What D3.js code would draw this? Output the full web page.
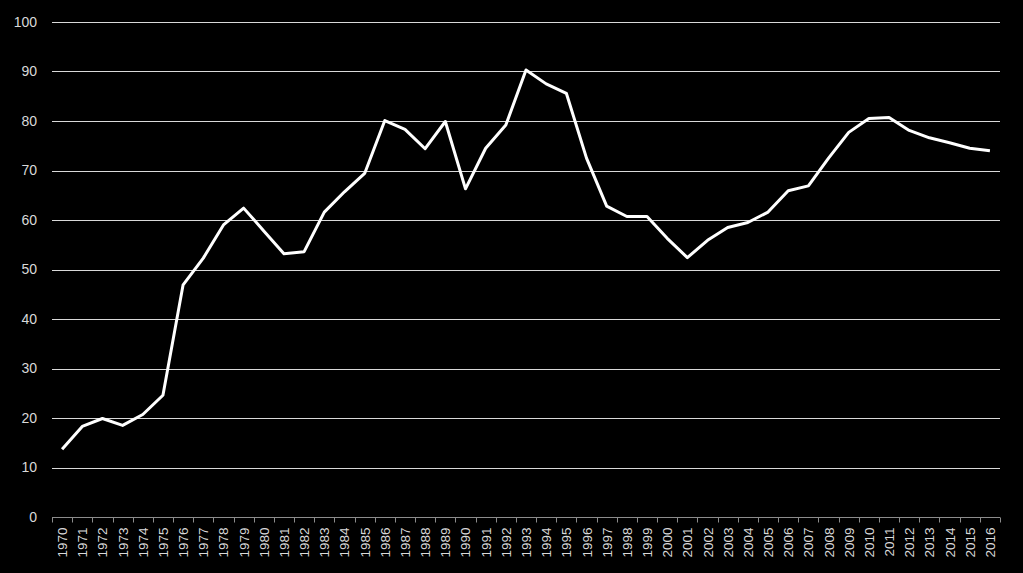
<!DOCTYPE html>
<html>
<head>
<meta charset="utf-8">
<script src="https://cdn.jsdelivr.net/npm/d3@7"></script>
<style>
  html, body { margin: 0; padding: 0; background: #000; }
  svg { display: block; }
</style>
</head>
<body>
<svg id="chart"></svg>
<script>
const years = d3.range(1970, 2017).map(String)
const values = [
  13.7, 18.3, 19.9, 18.5, 20.7, 24.6, 46.9, 52.3, 59.0, 62.4,
  57.8, 53.2, 53.6, 61.6, 65.7, 69.4, 80.1, 78.3, 74.4, 79.9,
  66.3, 74.5, 79.2, 90.3, 87.5, 85.6, 72.5, 62.8, 60.7, 60.7,
  56.3, 52.4, 55.9, 58.5, 59.5, 61.6, 65.9, 66.9, 72.5, 77.7,
  80.5, 80.7, 78.1, 76.6, 75.6, 74.5, 74.0
]
const yTicks = d3.range(0, 101, 10)

const width = 1023
const height = 573
const margin = { top: 22, right: 23, bottom: 56, left: 52 }

const svg = d3.select('#chart')
              .attr('width', width)
              .attr('height', height)

const x = d3.scaleBand()
            .domain(years)
            .range([margin.left, width - margin.right])

const y = d3.scaleLinear()
            .domain([0, 100])
            .range([height - margin.bottom, margin.top])

// gridlines
svg.append('g')
   .selectAll('line')
   .data(yTicks.filter(d => d > 0))
   .join('line')
   .attr('x1', margin.left)
   .attr('x2', width - margin.right)
   .attr('y1', d => Math.round(y(d)) + 0.5)
   .attr('y2', d => Math.round(y(d)) + 0.5)
   .attr('stroke', '#d9d9d9')
   .attr('stroke-width', 1)

// y labels
svg.append('g')
   .selectAll('text')
   .data(yTicks)
   .join('text')
   .attr('x', 37)
   .attr('y', d => y(d))
   .attr('dy', '0.35em')
   .attr('text-anchor', 'end')
   .attr('fill', '#d9d9d9')
   .style('font', '14px "Liberation Sans", Arial, sans-serif')
   .text(d => d)

// x axis line + ticks between categories
const xAxis = svg.append('g')
const baseY = Math.round(y(0)) + 0.5
xAxis.append('line')
     .attr('x1', margin.left)
     .attr('x2', width - margin.right)
     .attr('y1', baseY)
     .attr('y2', baseY)
     .attr('stroke', '#8c8c8c')

xAxis.selectAll('line.tick')
     .data(years.concat(['end']))
     .join('line')
     .attr('class', 'tick')
     .attr('x1', (d, i) => Math.round(margin.left + i * x.step()) + 0.5)
     .attr('x2', (d, i) => Math.round(margin.left + i * x.step()) + 0.5)
     .attr('y1', baseY)
     .attr('y2', baseY + 5)
     .attr('stroke', '#8c8c8c')

xAxis.selectAll('text')
     .data(years)
     .join('text')
     .attr('transform', d => `translate(${x(d) + x.bandwidth() / 2 + 5},${baseY + 10}) rotate(-90)`)
     .attr('text-anchor', 'end')
     .attr('fill', '#d9d9d9')
     .style('font', '13.5px "Liberation Sans", Arial, sans-serif')
     .text(d => d)

// data line
const line = d3.line()
               .x((d, i) => x(years[i]) + x.bandwidth() / 2)
               .y(d => y(d))

svg.append('path')
   .datum(values)
   .attr('d', line)
   .attr('fill', 'none')
   .attr('stroke', '#fff')
   .attr('stroke-width', 3)
   .attr('stroke-linejoin', 'round')
</script>
</body>
</html>
